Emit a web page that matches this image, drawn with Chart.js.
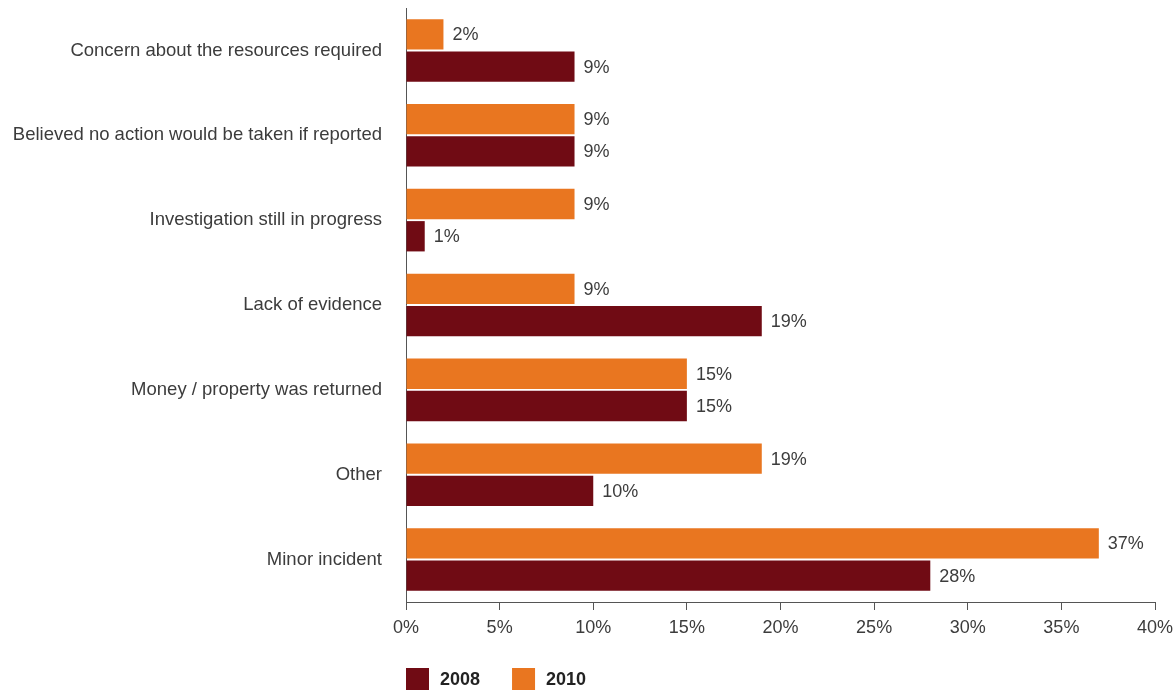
<!DOCTYPE html>
<html>
<head>
<meta charset="utf-8">
<script src="https://cdn.jsdelivr.net/npm/chart.js@4.4.1/dist/chart.umd.min.js"></script>
<style>
  html, body { margin: 0; padding: 0; background: #ffffff; }
  #wrap { position: relative; width: 1176px; height: 691px; }
</style>
</head>
<body>
<div id="wrap"><canvas id="chart" width="1176" height="691"></canvas></div>
<script>
// Reasons given for not pursuing an incident, share of respondents
const categories = [
  'Concern about the resources required',
  'Believed no action would be taken if reported',
  'Investigation still in progress',
  'Lack of evidence',
  'Money / property was returned',
  'Other',
  'Minor incident'
];
const values2010 = [2, 9, 9, 9, 15, 19, 37];
const values2008 = [9, 9, 1, 19, 15, 10, 28];
const xTicks = [0, 5, 10, 15, 20, 25, 30, 35, 40];
const legendOrder = ['2008', '2010'];

const COLOR_2010 = '#E97620';
const COLOR_2008 = '#700B14';
const TEXT = '#3c3c3c';
const FONT = "'Liberation Sans', Arial, sans-serif";

// Percentage labels to the right of each bar
const valueLabels = {
  id: 'valueLabels',
  afterDatasetsDraw(chart) {
    const ctx = chart.ctx;
    ctx.save();
    ctx.font = '18px ' + FONT;
    ctx.fillStyle = TEXT;
    ctx.textAlign = 'left';
    ctx.textBaseline = 'middle';
    chart.data.datasets.forEach((ds, i) => {
      const meta = chart.getDatasetMeta(i);
      meta.data.forEach((bar, j) => {
        ctx.fillText(ds.data[j] + '%', bar.x + 9, bar.y + 1);
      });
    });
    ctx.restore();
  }
};

// Legend row under the axis, starting at the plot's left edge
const bottomLegend = {
  id: 'bottomLegend',
  afterDraw(chart) {
    const ctx = chart.ctx;
    const left = chart.chartArea.left;
    const top = 668;
    const box = 23;
    ctx.save();
    ctx.font = 'bold 18px ' + FONT;
    ctx.textAlign = 'left';
    ctx.textBaseline = 'middle';
    let x = left;
    legendOrder.forEach(name => {
      const ds = chart.data.datasets.find(d => d.label === name);
      ctx.fillStyle = ds.backgroundColor;
      ctx.fillRect(x, top, box, 22);
      ctx.fillStyle = '#222222';
      ctx.fillText(name, x + box + 11, top + 12);
      x += box + 11 + ctx.measureText(name).width + 32;
    });
    ctx.restore();
  }
};

new Chart(document.getElementById('chart'), {
  type: 'bar',
  data: {
    labels: categories,
    datasets: [
      { label: '2010', data: values2010, backgroundColor: COLOR_2010 },
      { label: '2008', data: values2008, backgroundColor: COLOR_2008 }
    ]
  },
  options: {
    indexAxis: 'y',
    responsive: false,
    animation: false,
    devicePixelRatio: 1,
    categoryPercentage: 0.76,
    barPercentage: 0.94,
    layout: { padding: { left: 8, right: 21, top: 8, bottom: 49 } },
    scales: {
      x: {
        min: 0,
        max: 40,
        afterBuildTicks(scale) {
          scale.ticks = xTicks.map(v => ({ value: v }));
        },
        afterFit(scale) {
          scale.height = 40;
          scale.paddingLeft = 0;
          scale.paddingRight = 0;
        },
        ticks: {
          color: TEXT,
          font: { family: FONT, size: 18 },
          padding: 7,
          callback: v => v + '%'
        },
        grid: {
          drawOnChartArea: false,
          drawTicks: true,
          tickLength: 8,
          color: '#555555'
        },
        border: { display: true, color: '#555555', width: 1 }
      },
      y: {
        afterFit(scale) {
          scale.width = 398;
          scale.paddingTop = 0;
          scale.paddingBottom = 0;
        },
        ticks: {
          color: TEXT,
          font: { family: FONT, size: 18.5 },
          padding: 24
        },
        grid: { drawOnChartArea: false, drawTicks: false },
        border: { display: true, color: '#555555', width: 1 }
      }
    },
    plugins: {
      legend: { display: false },
      tooltip: { enabled: false },
      title: { display: false }
    }
  },
  plugins: [valueLabels, bottomLegend]
});
</script>
</body>
</html>
